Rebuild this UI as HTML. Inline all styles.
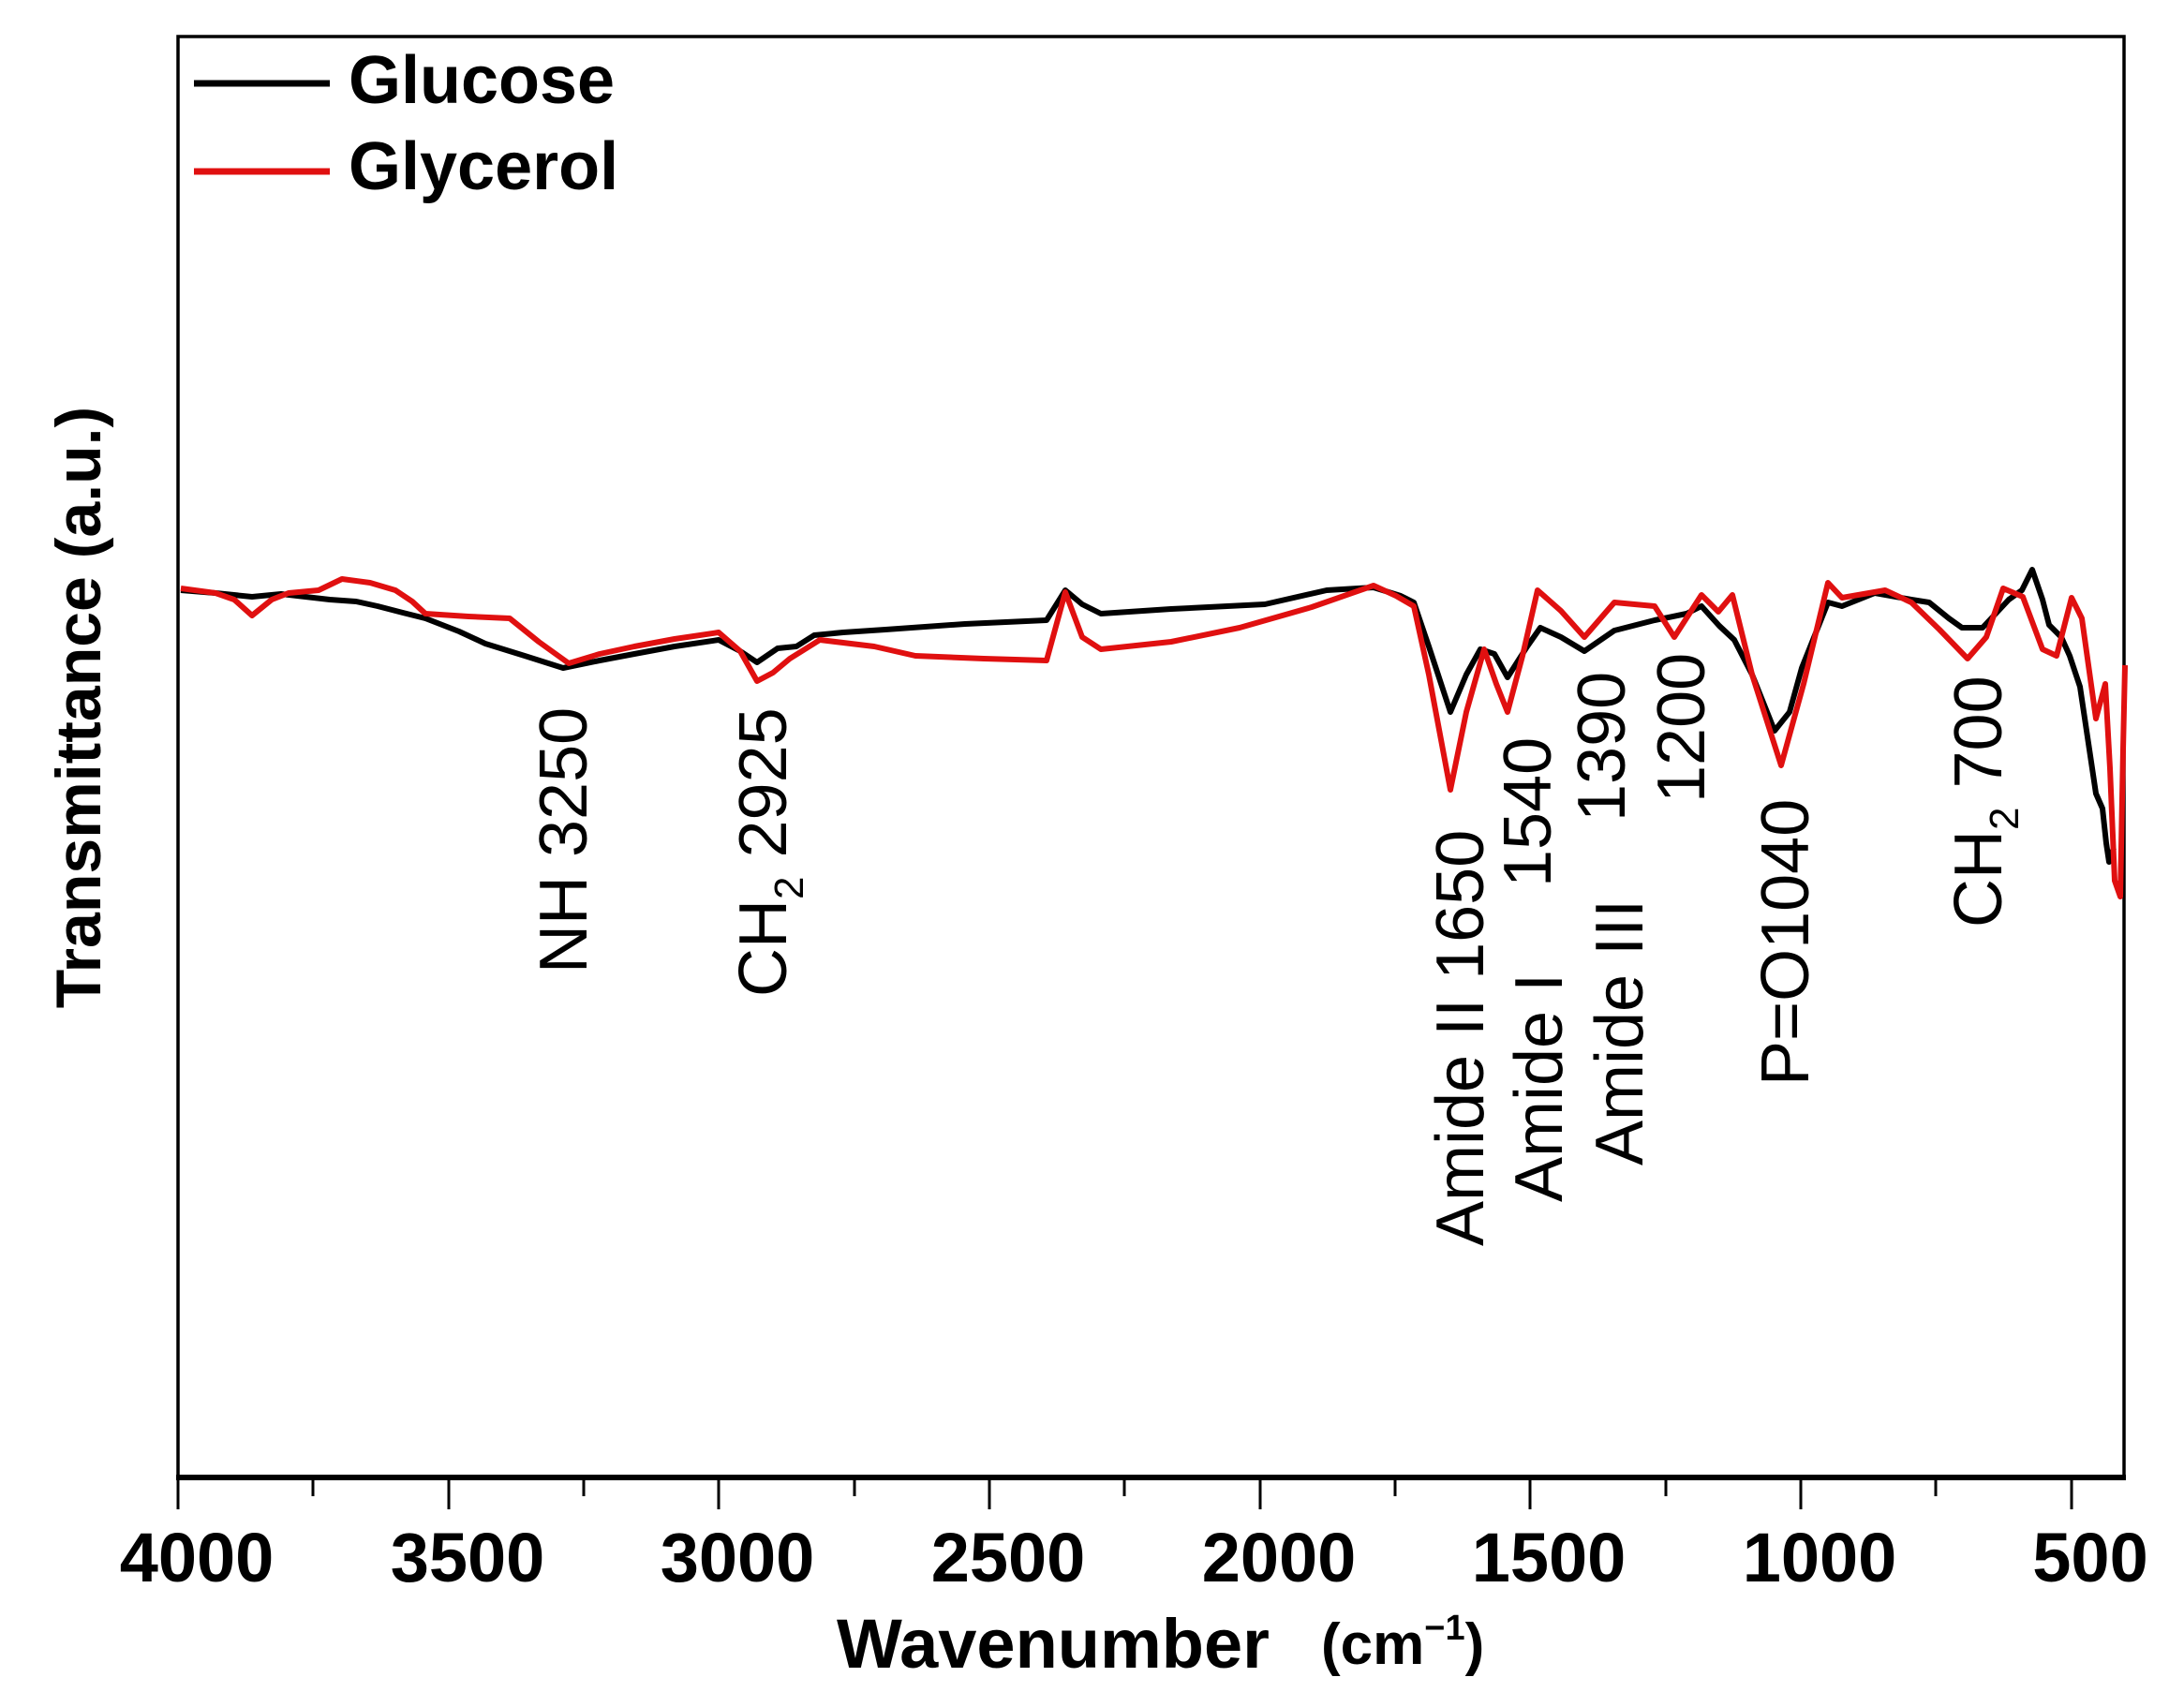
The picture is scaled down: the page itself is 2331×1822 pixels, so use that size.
<!DOCTYPE html>
<html><head><meta charset="utf-8"><style>
html,body{margin:0;padding:0;background:#fff;}
svg{display:block;}
text{font-family:"Liberation Sans",Arial,sans-serif;}
</style></head><body>
<svg width="2331" height="1822" viewBox="0 0 2331 1822" xmlns="http://www.w3.org/2000/svg">
<rect x="0" y="0" width="2331" height="1822" fill="#fff"/>
<rect x="190" y="39" width="2077" height="1538" fill="none" stroke="#000" stroke-width="3.5"/>
<line x1="188" y1="1577" x2="2269" y2="1577" stroke="#000" stroke-width="6"/>
<g stroke="#000" stroke-width="3">
<line x1="190" y1="1577" x2="190" y2="1611"/><line x1="334" y1="1577" x2="334" y2="1597"/>
<line x1="479" y1="1577" x2="479" y2="1611"/><line x1="623" y1="1577" x2="623" y2="1597"/>
<line x1="767" y1="1577" x2="767" y2="1611"/><line x1="912" y1="1577" x2="912" y2="1597"/>
<line x1="1056" y1="1577" x2="1056" y2="1611"/><line x1="1200" y1="1577" x2="1200" y2="1597"/>
<line x1="1345" y1="1577" x2="1345" y2="1611"/><line x1="1489" y1="1577" x2="1489" y2="1597"/>
<line x1="1633" y1="1577" x2="1633" y2="1611"/><line x1="1778" y1="1577" x2="1778" y2="1597"/>
<line x1="1922" y1="1577" x2="1922" y2="1611"/><line x1="2066" y1="1577" x2="2066" y2="1597"/>
<line x1="2211" y1="1577" x2="2211" y2="1611"/>
</g>
<g font-weight="bold" font-size="74" text-anchor="middle">
<text x="210" y="1688">4000</text><text x="499" y="1688">3500</text><text x="787" y="1688">3000</text>
<text x="1076" y="1688">2500</text><text x="1365" y="1688">2000</text><text x="1653" y="1688">1500</text>
<text x="1942" y="1688">1000</text><text x="2231" y="1688">500</text>
</g>
<text x="893" y="1780" font-weight="bold" font-size="74">Wavenumber</text>
<text x="1410" y="1776" font-weight="bold" font-size="62">(cm<tspan font-size="38" dy="-26">−1</tspan><tspan dy="26">)</tspan></text>
<text transform="translate(107,755) rotate(-90)" text-anchor="middle" font-weight="bold" font-size="68">Transmittance (a.u.)</text>
<line x1="207" y1="89" x2="352" y2="89" stroke="#000" stroke-width="7"/>
<line x1="207" y1="183" x2="352" y2="183" stroke="#e01010" stroke-width="7"/>
<text x="372" y="110" font-weight="bold" font-size="72">Glucose</text>
<text x="372" y="202" font-weight="bold" font-size="72">Glycerol</text>
<polyline fill="none" stroke="#000" stroke-width="6" stroke-linejoin="round" points="193,630 230,633 269,637 300,634 352,640 380,642 403,647 430,654 454,660 490,674 518,687 560,700 601,713 640,705 677,698 720,690 767,683 790,695 808,707 830,692 850,690 869,678 900,675 945,672 1030,666 1117,662 1137,630 1155,645 1175,655 1250,650 1350,645 1416,630 1466,627 1495,636 1509,643 1525,690 1548,760 1565,720 1580,693 1595,698 1609,723 1630,690 1644,670 1666,680 1691,695 1723,673 1766,662 1800,655 1816,647 1835,668 1851,683 1870,720 1894,780 1910,760 1923,713 1951,643 1966,647 2001,633 2040,640 2059,643 2080,660 2094,670 2116,670 2144,640 2158,630 2169,608 2180,640 2187,667 2200,680 2209,700 2220,733 2230,800 2237,847 2244,863 2248,900 2251,920 2256,905"/>
<polyline fill="none" stroke="#e01010" stroke-width="6" stroke-linejoin="round" points="193,628 230,633 250,640 269,657 290,640 308,633 340,630 365,618 395,622 422,630 440,642 454,655 500,658 544,660 575,685 607,708 640,698 677,690 720,682 767,675 790,695 808,727 825,718 843,703 875,683 933,690 977,700 1050,703 1117,705 1137,632 1155,680 1175,693 1250,685 1323,670 1400,648 1466,625 1490,636 1509,647 1525,720 1548,843 1565,760 1584,693 1597,730 1609,760 1625,700 1641,630 1666,652 1691,680 1723,643 1766,647 1787,680 1816,635 1834,653 1849,635 1870,720 1901,817 1925,730 1951,622 1966,638 2012,630 2040,643 2070,672 2100,703 2120,680 2138,628 2159,637 2180,693 2195,700 2211,638 2222,660 2237,767 2247,730 2252,820 2257,940 2263,957 2266,800 2268,710"/>
<g font-size="72" fill="#000">
<text transform="translate(626,1039) rotate(-90)">NH 3250</text>
<text transform="translate(839,1064) rotate(-90)">CH<tspan font-size="44" dy="18">2</tspan><tspan dy="-18"> 2925</tspan></text>
<text transform="translate(1583,1330) rotate(-90)">Amide II 1650</text>
<text transform="translate(1667,1283) rotate(-90)">Amide I</text>
<text transform="translate(1655,947) rotate(-90)">1540</text>
<text transform="translate(1753,1244) rotate(-90)">Amide III</text>
<text transform="translate(1734,877) rotate(-90)">1390</text>
<text transform="translate(1819,857) rotate(-90)">1200</text>
<text transform="translate(1930,1159) rotate(-90)">P=O1040</text>
<text transform="translate(2136,990) rotate(-90)">CH<tspan font-size="44" dy="18">2</tspan><tspan dy="-18"> 700</tspan></text>
</g>
</svg>
</body></html>
